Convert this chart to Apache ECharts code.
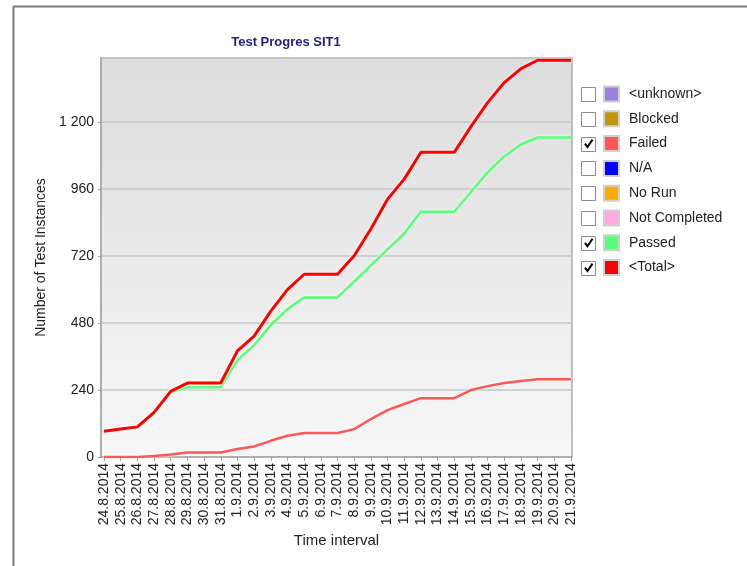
<!DOCTYPE html>
<html>
<head>
<meta charset="utf-8">
<script src="https://cdn.jsdelivr.net/npm/echarts@6/dist/echarts.min.js"></script>
<style>
  html, body { margin: 0; padding: 0; background: #ffffff; }
  #chart { width: 747px; height: 566px; }
</style>
</head>
<body>
<div id="chart"></div>
<script>
// Daily test-run dates (x axis tick labels)
var dates = [
  '24.8.2014', '25.8.2014', '26.8.2014', '27.8.2014', '28.8.2014', '29.8.2014', '30.8.2014', '31.8.2014',
  '1.9.2014', '2.9.2014', '3.9.2014', '4.9.2014', '5.9.2014', '6.9.2014', '7.9.2014', '8.9.2014',
  '9.9.2014', '10.9.2014', '11.9.2014', '12.9.2014', '13.9.2014', '14.9.2014', '15.9.2014', '16.9.2014',
  '17.9.2014', '18.9.2014', '19.9.2014', '20.9.2014', '21.9.2014'
];

// Cumulative test instances per status
var totalValues = [92, 100, 108, 160, 235, 265, 265, 265, 380, 433, 523, 600, 655, 655, 655, 721,
  817, 924, 996, 1092, 1092, 1092, 1184, 1270, 1342, 1392, 1422, 1422, 1422];
var passedValues = [92, 100, 108, 156, 232, 250, 250, 250, 347, 401, 473, 530, 572, 572, 572, 629,
  687, 744, 801, 879, 879, 879, 950, 1020, 1077, 1120, 1145, 1145, 1145];
var failedValues = [0, 0, 0, 4, 9, 16, 16, 16, 29, 38, 58, 76, 86, 86, 86, 100,
  136, 168, 190, 211, 211, 211, 240, 254, 265, 272, 279, 279, 279];

// Status list shown in the legend, with colours and check state
var statusNames = ['<unknown>', 'Blocked', 'Failed', 'N/A', 'No Run', 'Not Completed', 'Passed', '<Total>'];
var statusColors = ['#9a80e0', '#c0960f', '#ff5656', '#0000ff', '#ffaa00', '#ffaadd', '#55ff77', '#ff0000'];
var statusChecked = [false, false, true, false, false, false, true, true];

var yTicks = [0, 240, 480, 720, 960, 1200];

var FONT = 'Liberation Sans, Arial, sans-serif';

var valuesByStatus = {
  'Failed': failedValues,
  'Passed': passedValues,
  '<Total>': totalValues
};
var widthByStatus = { 'Failed': 2.5, 'Passed': 2.5, '<Total>': 3 };

function toPoints(arr) {
  return arr.map(function (v, i) { return [i, v]; });
}

var series = statusNames.map(function (name, i) {
  var vals = valuesByStatus[name];
  return {
    name: name,
    type: 'line',
    data: vals ? toPoints(vals) : [],
    color: statusColors[i],
    symbol: 'none',
    silent: true,
    z: name === '<Total>' ? 5 : (name === 'Passed' ? 4 : 3),
    lineStyle: {
      color: statusColors[i],
      width: widthByStatus[name] || 2,
      shadowColor: 'rgba(255,255,255,0.95)',
      shadowBlur: 3
    }
  };
});

function fmtThousands(v) {
  var s = String(v);
  if (s.length > 3) s = s.slice(0, s.length - 3) + ' ' + s.slice(s.length - 3);
  return s;
}

// Legend rows: first row centre and row pitch
var rowCenter = 94, rowStep = 24.8, legendItemH = 17;

// Outer frame plus a checkbox beside each legend row
var graphics = [
  {
    type: 'polyline',
    shape: { points: [[13.5, 566], [13.5, 6.5], [747, 6.5]] },
    style: { stroke: '#7a7a7a', lineWidth: 2, fill: null },
    silent: true
  }
];
statusNames.forEach(function (name, i) {
  var cy = rowCenter + i * rowStep;
  graphics.push({
    type: 'rect',
    shape: { x: 581.5, y: Math.round(cy - 7) + 0.5, width: 14, height: 14 },
    style: { fill: '#ffffff', stroke: '#8c8c8c', lineWidth: 1 },
    silent: true
  });
  if (statusChecked[i]) {
    graphics.push({
      type: 'polyline',
      shape: { points: [[585, cy], [587.5, cy + 3.5], [592.5, cy - 4]] },
      style: { stroke: '#000000', lineWidth: 2, fill: null },
      silent: true
    });
  }
});

var chart = echarts.init(document.getElementById('chart'), null, { renderer: 'canvas' });

chart.setOption({
  animation: false,
  backgroundColor: '#ffffff',
  title: {
    text: 'Test Progres SIT1',
    left: 281,
    textAlign: 'center',
    top: 31,
    textStyle: { fontFamily: FONT, fontSize: 13, fontWeight: 'bold', color: '#1e1e86' }
  },
  grid: {
    left: 101, right: 175, top: 58, bottom: 109,
    show: true,
    borderColor: '#acacac',
    borderWidth: 1.5,
    backgroundColor: new echarts.graphic.LinearGradient(0, 0, 0, 1, [
      { offset: 0, color: '#dcdcdc' },
      { offset: 1, color: '#f7f7f7' }
    ])
  },
  legend: {
    orient: 'vertical',
    left: 603,
    top: rowCenter - legendItemH / 2,
    padding: 0,
    data: statusNames,
    icon: 'rect',
    itemWidth: 15,
    itemHeight: 15,
    itemGap: rowStep - legendItemH,
    selectedMode: false,
    itemStyle: { borderColor: '#cfcfcf', borderWidth: 2 },
    textStyle: { fontFamily: FONT, fontSize: 14, color: '#222222', padding: [0, 0, 0, 5] }
  },
  xAxis: {
    type: 'value',
    min: -0.18,
    max: 28.06,
    name: 'Time interval',
    nameLocation: 'middle',
    nameGap: 76,
    nameTextStyle: { fontFamily: FONT, fontSize: 15, color: '#222222' },
    axisLine: { show: true, lineStyle: { color: '#a8a8a8', width: 1.5 } },
    axisTick: {
      show: true,
      customValues: dates.map(function (d, i) { return i; }),
      length: 4,
      lineStyle: { color: '#a0a0a0' }
    },
    axisLabel: {
      customValues: dates.map(function (d, i) { return i; }),
      rotate: 90,
      margin: 6,
      fontFamily: FONT,
      fontSize: 14,
      color: '#222222',
      formatter: function (v) { return dates[Math.round(v)]; }
    },
    splitLine: { show: false }
  },
  yAxis: {
    type: 'value',
    min: 0,
    max: 1430,
    interval: 240,
    name: 'Number of Test Instances',
    nameLocation: 'middle',
    nameGap: 43,
    nameTextStyle: { fontFamily: FONT, fontSize: 14, color: '#222222' },
    axisLine: { show: true, onZero: false, lineStyle: { color: '#a8a8a8', width: 1.5 } },
    axisTick: { show: true, length: 3, lineStyle: { color: '#a0a0a0' } },
    axisLabel: {
      showMaxLabel: false,
      margin: 7,
      fontFamily: FONT,
      fontSize: 14,
      color: '#222222',
      formatter: function (v) {
        return yTicks.indexOf(v) >= 0 ? fmtThousands(v) : '';
      }
    },
    splitLine: { show: true, lineStyle: { color: '#c6c6c6', width: 1.5 } }
  },
  graphic: graphics,
  series: series
});
</script>
</body>
</html>
